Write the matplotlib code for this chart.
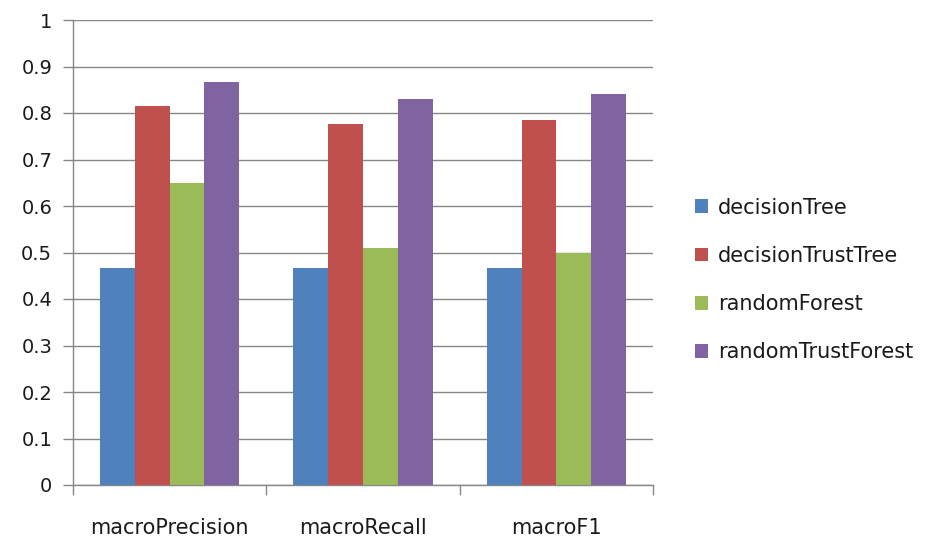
import matplotlib
matplotlib.use("Agg")
import matplotlib.pyplot as plt
import numpy as np
from matplotlib.patches import Patch

categories = ["macroPrecision", "macroRecall", "macroF1"]
series_names = ["decisionTree", "decisionTrustTree", "randomForest", "randomTrustForest"]
decisionTree = [0.467, 0.467, 0.467]
decisionTrustTree = [0.814, 0.776, 0.785]
randomForest = [0.649, 0.510, 0.500]
randomTrustForest = [0.866, 0.831, 0.841]
yticks = [0, 0.1, 0.2, 0.3, 0.4, 0.5, 0.6, 0.7, 0.8, 0.9, 1]
ytick_labels = ["0", "0.1", "0.2", "0.3", "0.4", "0.5", "0.6", "0.7", "0.8", "0.9", "1"]

colors = ["#4F81BD", "#C0504D", "#9BBB59", "#8064A2"]
series = [decisionTree, decisionTrustTree, randomForest, randomTrustForest]

plt.rcParams['font.family'] = ['DejaVu Sans']

fig = plt.figure(figsize=(9.27, 5.38), dpi=100)
ax = fig.add_axes([73/927, 53/538, (653-73)/927, (485-20)/538])

x = np.arange(len(categories))
w = 0.18
for i, (vals, c, name) in enumerate(zip(series, colors, series_names)):
    ax.bar(x + (i - 1.5) * w, vals, width=w, color=c, label=name, zorder=3)

ax.set_xlim(-0.5, len(categories) - 0.5)
ax.set_ylim(0, 1)
ax.set_yticks(yticks)
ax.set_yticklabels(ytick_labels)
ax.yaxis.grid(True, color="#868686", linewidth=1.0, zorder=0)
ax.set_axisbelow(True)

for s in ["top", "right"]:
    ax.spines[s].set_visible(False)
for s in ["left", "bottom"]:
    ax.spines[s].set_color("#868686")
    ax.spines[s].set_linewidth(1.0)

ax.set_xticks(x)
ax.set_xticklabels(categories)
ax.set_xticks(np.arange(-0.5, len(categories)), minor=True)
ax.tick_params(axis="x", which="major", length=0, pad=24, labelsize=15, labelcolor="#1a1a1a")
ax.tick_params(axis="x", which="minor", length=7, color="#868686", width=1.0, direction="out")
ax.tick_params(axis="y", length=7, color="#868686", width=1.0, pad=8, labelsize=14, labelcolor="#1a1a1a")

handles = [Patch(facecolor=c, edgecolor="none") for c in colors]
fig.legend(handles, series_names, loc="center left", bbox_to_anchor=(676/927, 1 - 280/538),
           frameon=False, fontsize=15, labelspacing=1.36, handlelength=0.65, handleheight=0.65,
           handletextpad=0.45, labelcolor="#1a1a1a")

fig.savefig("out.png", dpi=100, facecolor="white")
